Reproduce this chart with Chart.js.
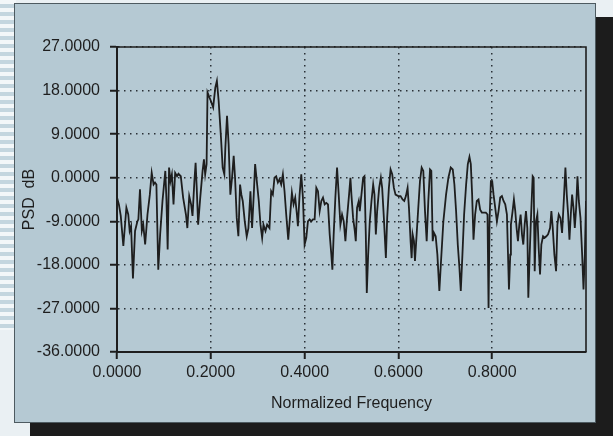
<!DOCTYPE html>
<html><head><meta charset="utf-8">
<script src="https://cdn.jsdelivr.net/npm/chart.js@4"></script>
<style>
html,body{margin:0;padding:0;width:613px;height:436px;overflow:hidden;background:#eaf0f3;}
#stripes{position:absolute;left:0;top:0;width:16px;height:330px;background:repeating-linear-gradient(180deg,#f3f7f9 0 4px,#c4d6df 4px 8px);}
#shadow{position:absolute;left:30px;top:17px;width:583px;height:419px;background:#1c1c1c;}
#panel{position:absolute;left:14px;top:3px;width:580px;height:418px;background:#b5c9d3;border:1px solid #4d5a60;}
#wrap{position:absolute;left:0;top:0;width:613px;height:436px;}
</style></head>
<body>
<div id="stripes"></div><div id="shadow"></div><div id="panel"></div>
<div id="wrap"><canvas id="c" width="613" height="436"></canvas></div>
<script>
const freq = [
0.000,0.004,0.008,0.0135,0.020,0.024,0.027,0.030,0.034,0.0385,0.0435,0.0456,0.049,0.053,0.056,0.060,0.065,0.070,0.074,0.078,
0.081,0.084,0.088,0.092,0.097,0.103,0.1055,0.108,0.111,0.114,0.117,0.1205,0.124,0.128,0.131,0.136,0.141,0.147,0.150,
0.154,0.158,0.161,0.165,0.1676,0.170,0.173,0.1775,0.1825,0.1854,0.188,0.191,0.193,0.197,0.200,0.205,0.2096,0.213,0.2167,0.2217,
0.2253,0.2289,0.231,0.2346,0.238,0.2417,0.2453,0.2488,0.2517,0.2553,0.2588,0.2624,0.2652,0.2681,0.2724,0.2766,0.2802,0.2845,0.288,0.2916,
0.2945,0.2988,0.3023,0.3059,0.3095,0.3123,0.3166,0.3201,0.3251,0.3287,
0.3323,0.3358,0.3394,0.343,0.3465,0.3501,0.3537,0.3572,0.3608,0.3651,0.3693,0.3729,0.3765,0.380,0.3836,0.3857,0.3893,0.3929,0.3964,0.400,
0.4036,0.4071,0.4107,0.4143,0.4178,0.4214,0.425,0.4285,0.4321,0.4357,0.4392,0.4428,0.4463,0.4499,0.4535,0.457,0.4592,0.462,0.4656,0.4692,
0.4727,0.4763,0.4799,0.4834,0.487,0.4905,0.4948,0.4977,
0.4998,0.5034,0.507,0.5091,0.5119,0.5155,0.5176,0.5212,0.5248,0.5276,0.5305,0.5326,0.5355,0.539,0.5426,0.5462,0.549,0.5519,0.5547,0.559,
0.5626,0.5654,0.569,0.5733,0.5761,0.5797,0.5833,0.5868,0.5904,0.5939,0.5996,0.6046,0.6089,0.6125,0.616,0.6196,0.6225,0.626,0.6282,0.6303,
0.6332,0.6353,0.6389,0.6424,0.646,0.6496,0.6531,0.6567,0.6603,0.6638,0.6674,0.6702,
0.6731,0.6759,0.6795,0.6831,0.6873,0.6909,0.6959,0.7016,0.7066,0.7116,0.7159,0.7194,0.723,0.7266,0.7301,0.733,0.7365,0.7401,0.7444,0.748,
0.7515,0.7544,0.7572,0.7601,0.7636,0.7672,0.7708,0.7743,0.7779,0.7815,0.7865,0.790,0.7922,0.7943,0.7972,0.800,0.8029,0.8064,0.810,0.8135,
0.8171,0.8207,0.8242,0.8278,0.8314,0.8335,0.8357,0.8385,
0.8399,0.8435,0.8463,0.8492,0.852,0.8549,0.8578,0.8606,0.8635,0.8663,0.8692,0.872,0.8749,0.877,0.8799,0.8827,0.8863,0.8884,0.8906,0.8934,
0.8963,0.8991,0.902,0.9048,0.9084,0.9119,0.9155,0.9191,0.9234,0.9262,0.9291,0.9326,0.9362,0.939,0.9419,0.9455,0.949,0.9526,0.9561,0.959,
0.9619,0.9647,0.9676,0.9704,0.9733,0.9761,0.979,0.9818,0.9847,0.9882,0.9918,0.9947,0.9975,1.000
];
const psd = [
-4.1,-5.5,-7.9,-14.1,-6.2,-7.6,-11.0,-10.0,-20.8,-11.0,-9.0,-8.6,-2.4,-11.0,-9.7,-13.8,-7.6,-3.5,1.0,-1.4,
-1.0,-1.4,-19.0,-11.7,-4.8,1.4,-4.8,-14.8,2.1,-0.7,0.7,-5.5,1.0,0.3,0.8,0.3,-4.1,-7.6,-10.4,
-3.8,-5.5,-7.9,-0.7,3.1,-2.1,-9.7,-4.1,1.4,3.8,0.7,2.8,17.6,16.6,15.9,14.5,18.6,20.0,15.9,8.3,
2.1,0.7,6.2,12.8,6.9,-3.5,0.0,4.5,0.0,-8.3,-12.1,-1.4,-3.5,-4.8,-9.0,-12.1,-10.4,-2.8,-10.4,-3.5,
2.8,-1.4,-4.8,-9.7,-12.4,-9.7,-11.0,-9.7,-10.4,-2.8,
-3.5,0.0,0.3,-1.0,-0.3,-1.4,0.7,-2.8,-7.6,-12.8,-7.6,-3.1,-5.5,-4.1,-7.6,-10.0,-3.5,0.7,-4.1,-13.8,
-12.4,-9.0,-8.6,-9.0,-8.6,-8.6,-2.1,-2.8,-6.9,-4.8,-4.1,-5.5,-5.2,-5.5,-11.7,-15.9,-19.0,-11.7,-4.1,2.1,
-3.5,-9.7,-7.6,-9.0,-13.1,-8.3,-3.5,0.0,
-3.5,-8.3,-11.0,-13.1,-6.2,-4.8,-6.9,-3.5,0.0,0.3,-11.7,-23.8,-15.9,-9.0,-4.8,-1.4,-3.5,-11.7,-6.9,-2.1,
0.0,-2.1,-8.3,-16.6,-8.3,-2.1,1.7,0.7,-2.1,-3.5,-3.8,-3.8,-4.5,-4.8,-3.8,-2.1,-6.2,-13.1,-16.6,-11.7,
-13.1,-17.2,-11.7,-6.2,-0.7,2.1,1.4,-6.9,-13.1,-4.8,1.7,1.4,
-13.1,-11.4,-12.1,-15.9,-23.4,-17.2,-9.0,-3.5,0.0,2.1,1.7,-1.4,-6.9,-13.8,-18.6,-23.4,-15.9,-7.6,-1.4,2.8,
4.3,2.8,-3.5,-12.8,-7.6,-4.8,-4.5,-6.6,-7.2,-7.2,-7.2,-7.6,-26.9,-9.0,-0.7,-0.7,-3.5,-6.2,-9.0,-6.9,
-4.1,-3.8,-4.8,-5.5,-7.6,-15.2,-23.1,-15.9,
-9.7,-6.9,-4.5,-6.9,-10.4,-13.1,-9.7,-7.6,-11.7,-13.8,-9.7,-6.9,-10.4,-24.8,-15.9,-8.3,0.3,0.0,-19.3,-9.0,
-7.6,-14.5,-20.0,-13.8,-12.1,-12.4,-12.1,-11.7,-10.4,-6.9,-10.4,-15.9,-19.3,-9.7,-7.6,-8.3,-11.4,-4.8,2.1,-3.5,
-7.6,-12.8,-7.6,-3.5,-6.2,-10.4,-6.2,0.3,-4.8,-8.3,-15.9,-23.1,-15.9,-4.8
];
const yTicks = [-36, -27, -18, -9, 0, 9, 18, 27];
const xTicks = [0, 0.2, 0.4, 0.6, 0.8];
const xTitle = 'Normalized Frequency';
const yTitle = 'PSD  dB';

const FONT = "'Liberation Sans', Arial, Helvetica, sans-serif";
const INK = '#1e1e1e';
const GRID = '#2a3036';

const frame = {
  id: 'frame',
  afterDatasetsDraw(chart) {
    const {ctx, chartArea: a} = chart;
    ctx.save();
    ctx.strokeStyle = INK;
    ctx.lineWidth = 1.6;
    ctx.beginPath();
    ctx.moveTo(a.left, a.top);
    ctx.lineTo(a.right, a.top);
    ctx.lineTo(a.right, a.bottom);
    ctx.stroke();
    ctx.restore();
  }
};

new Chart(document.getElementById('c'), {
  type: 'line',
  data: {
    datasets: [{
      data: freq.map((f, i) => ({x: f, y: psd[i]})),
      borderColor: INK,
      borderWidth: 1.8,
      pointRadius: 0,
      tension: 0,
      fill: false
    }]
  },
  options: {
    responsive: false,
    animation: false,
    devicePixelRatio: 1,
    layout: {padding: {top: 47, right: 27, left: 0, bottom: 0}},
    plugins: {legend: {display: false}, tooltip: {enabled: false}},
    scales: {
      x: {
        type: 'linear', min: 0, max: 1.0,
        afterBuildTicks: s => { s.ticks = xTicks.map(v => ({value: v})); },
        afterFit: s => { s.height = 84; },
        ticks: {
          color: INK, padding: 4,
          font: {family: FONT, size: 16},
          callback: v => Number(v).toFixed(4)
        },
        grid: {color: GRID, lineWidth: 1.5, tickLength: 7, tickWidth: 2, tickColor: INK},
        border: {display: true, color: INK, width: 2, dash: [1.5, 4.5]},
        title: {display: true, text: xTitle, color: INK, font: {family: FONT, size: 16}, padding: {bottom: 23, top: 0}}
      },
      y: {
        type: 'linear', min: -36, max: 27,
        afterBuildTicks: s => { s.ticks = yTicks.map(v => ({value: v})); },
        afterFit: s => { s.width = 117; },
        ticks: {
          color: INK, padding: 10,
          font: {family: FONT, size: 16},
          callback: v => Number(v).toFixed(4)
        },
        grid: {color: GRID, lineWidth: 1.5, tickLength: 7, tickWidth: 2, tickColor: INK},
        border: {display: true, color: INK, width: 2, dash: [1.5, 4.5]},
        title: {display: true, text: yTitle, color: INK, font: {family: FONT, size: 16}, padding: {top: 20, bottom: 0}}
      }
    }
  },
  plugins: [frame]
});
</script>
</body></html>
